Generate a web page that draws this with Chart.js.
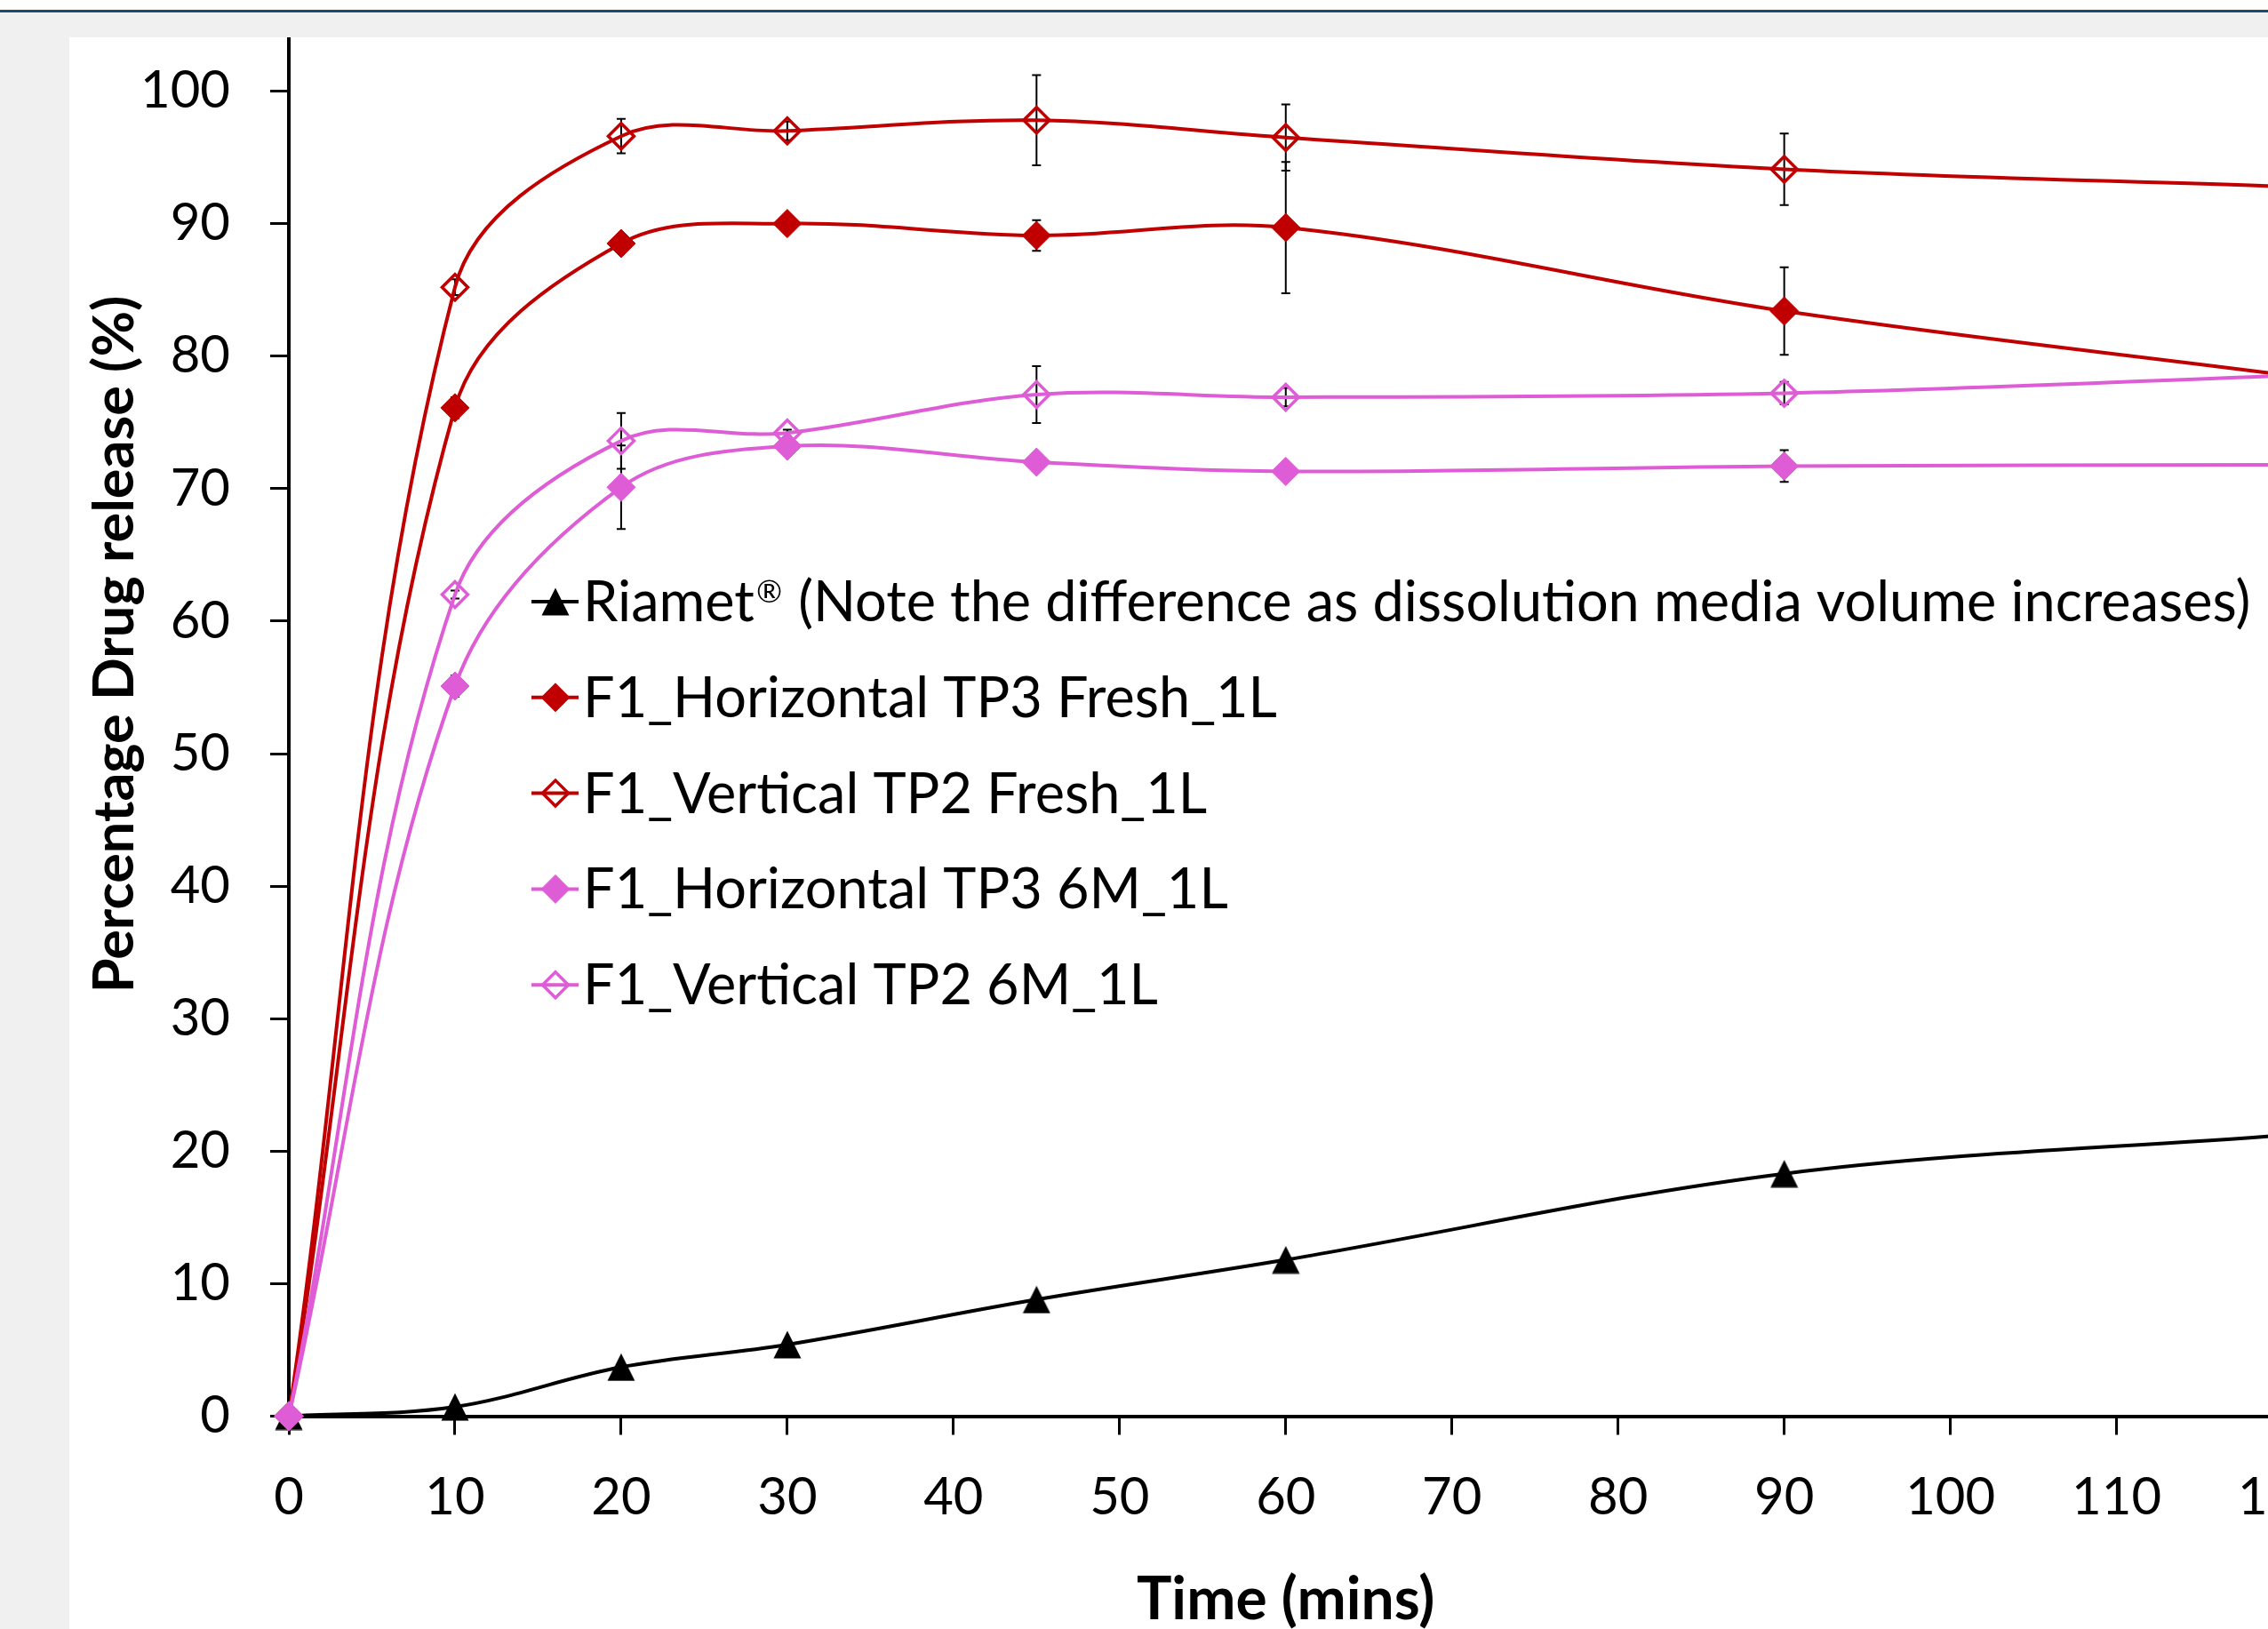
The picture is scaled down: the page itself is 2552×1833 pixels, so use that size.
<!DOCTYPE html>
<html>
<head>
<meta charset="utf-8">
<title>Percentage drug release</title>
<script src="https://cdn.jsdelivr.net/npm/chart.js@4.4.1/dist/chart.umd.min.js"></script>
<style>
  html, body { margin: 0; padding: 0; }
  body { width: 2552px; height: 1833px; overflow: hidden; background: #f0f0f0; position: relative; }
  .topbar { position: absolute; left: 0; top: 0; width: 100%; height: 11px; background: #fff; }
  .topline { position: absolute; left: 0; top: 11px; width: 100%; height: 3px; background: #1b4a6b; }
  .panel { position: absolute; left: 78px; top: 42px; right: 0; bottom: 0; background: #fff; overflow: hidden; }
  #chart { position: absolute; left: -78px; top: -242px; }
</style>
</head>
<body>
<div class="topbar"></div>
<div class="topline"></div>
<div class="panel"><canvas id="chart" width="2655" height="2040"></canvas></div>
<script>
// Datos
const times = [0, 10, 20, 30, 45, 60, 90, 120];
const riamet = [0, 0.7, 3.7, 5.4, 8.8, 11.8, 18.3, 21.2];
const hFresh = [0, 76.1, 88.5, 90.0, 89.1, 89.7, 83.4, 78.6];
const vFresh = [0, 85.2, 96.6, 97.0, 97.8, 96.5, 94.1, 92.8];
const h6m = [0, 55.1, 70.1, 73.2, 72.0, 71.3, 71.7, 71.8];
const v6m = [0, 62.0, 73.6, 74.2, 77.1, 76.9, 77.2, 78.5];

// Barras de error (+/-)
const hFreshErr = [0, 0.8, 0.6, 0.5, 1.15, 4.95, 3.3, 1.0];
const vFreshErr = [0, 0.6, 1.3, 0.7, 3.4, 2.5, 2.7, 1.0];
const h6mErr = [0, 0.8, 3.15, 0.6, 0.6, 0.5, 1.2, 0.5];
const v6mErr = [0, 0.3, 2.1, 0.25, 2.15, 0.7, 0.85, 0.5];

const seriesLabels = [
    'Riamet® (Note the difference as dissolution media volume increases)',
    'F1_Horizontal TP3 Fresh_1L',
    'F1_Vertical TP2 Fresh_1L',
    'F1_Horizontal TP3 6M_1L',
    'F1_Vertical TP2 6M_1L'
];
const xTitle = 'Time (mins)';
const yTitle = 'Percentage Drug release (%)';

const RED = '#c00000';
const PINK = '#de5cd6';
const FONT = 'Lato, "Open Sans", sans-serif';

// Marcador triangular tipo Excel
const tri = document.createElement('canvas');
tri.width = 32;
tri.height = 32;
const tctx = tri.getContext('2d');
tctx.fillStyle = '#000';
tctx.beginPath();
tctx.moveTo(16, 0.5);
tctx.lineTo(31.5, 31.5);
tctx.lineTo(0.5, 31.5);
tctx.closePath();
tctx.fill();

function toPoints(values) {
    return times.map((t, i) => ({ x: t, y: values[i] }));
}

function makeSet(label, values, color, filled, errors, order) {
    return {
        label: label,
        data: toPoints(values),
        errors: errors,
        borderColor: color,
        backgroundColor: color,
        borderWidth: 4,
        pointStyle: 'rectRot',
        pointRadius: filled ? 16 : 14.5,
        pointBorderWidth: filled ? 1 : 3.5,
        pointBackgroundColor: filled ? color : 'rgba(0,0,0,0)',
        pointBorderColor: color,
        tension: 0.35,
        clip: false,
        order: order
    };
}

const datasets = [
    {
        label: seriesLabels[0],
        data: toPoints(riamet),
        borderColor: '#000',
        backgroundColor: '#000',
        borderWidth: 4,
        pointStyle: tri,
        pointRadius: 16,
        tension: 0.35,
        clip: false,
        order: 5
    },
    makeSet(seriesLabels[1], hFresh, RED, true, hFreshErr, 4),
    makeSet(seriesLabels[2], vFresh, RED, false, vFreshErr, 3),
    makeSet(seriesLabels[3], h6m, PINK, true, h6mErr, 2),
    makeSet(seriesLabels[4], v6m, PINK, false, v6mErr, 1)
];

// Barras de error dibujadas con las escalas
const errorBars = {
    id: 'errorBars',
    beforeDatasetsDraw(chart) {
        const { ctx, scales: { x, y } } = chart;
        ctx.save();
        ctx.strokeStyle = '#000';
        ctx.lineWidth = 2;
        chart.data.datasets.forEach(ds => {
            if (!ds.errors) return;
            ds.data.forEach((p, i) => {
                const e = ds.errors[i];
                if (!e) return;
                const px = x.getPixelForValue(p.x);
                const top = y.getPixelForValue(p.y + e);
                const bot = y.getPixelForValue(p.y - e);
                ctx.beginPath();
                ctx.moveTo(px, top);
                ctx.lineTo(px, bot);
                ctx.moveTo(px - 5, top);
                ctx.lineTo(px + 5, top);
                ctx.moveTo(px - 5, bot);
                ctx.lineTo(px + 5, bot);
                ctx.stroke();
            });
        });
        ctx.restore();
    }
};

function drawMarker(ctx, ds, x, y) {
    if (ds.pointStyle instanceof HTMLCanvasElement) {
        ctx.drawImage(ds.pointStyle, x - ds.pointStyle.width / 2, y - ds.pointStyle.height / 2);
        return;
    }
    const r = ds.pointRadius;
    ctx.beginPath();
    ctx.moveTo(x - r, y);
    ctx.lineTo(x, y - r);
    ctx.lineTo(x + r, y);
    ctx.lineTo(x, y + r);
    ctx.closePath();
    ctx.fillStyle = ds.pointBackgroundColor;
    ctx.fill();
    ctx.lineWidth = ds.pointBorderWidth;
    ctx.strokeStyle = ds.pointBorderColor;
    ctx.stroke();
}

// Texto de leyenda con ® en superíndice
function drawLabel(ctx, text, x, y, size) {
    const parts = text.split('®');
    ctx.font = size + 'px ' + FONT;
    ctx.fillText(parts[0], x, y);
    if (parts.length < 2) return;
    x += ctx.measureText(parts[0]).width + 2;
    ctx.font = Math.round(size * 0.55) + 'px ' + FONT;
    ctx.fillText('®', x, y - size * 0.33);
    x += ctx.measureText('®').width + 2;
    ctx.font = size + 'px ' + FONT;
    ctx.fillText(parts[1], x, y);
}

// Leyenda dentro del área del gráfico y título del eje Y
const insideLegend = {
    id: 'insideLegend',
    afterDraw(chart) {
        const ctx = chart.ctx;
        ctx.save();
        ctx.textAlign = 'left';
        ctx.textBaseline = 'alphabetic';
        chart.data.datasets.forEach((ds, i) => {
            const cy = 877 + i * 107.8;
            ctx.strokeStyle = ds.borderColor;
            ctx.lineWidth = ds.borderWidth;
            ctx.beginPath();
            ctx.moveTo(598, cy);
            ctx.lineTo(651, cy);
            ctx.stroke();
            drawMarker(ctx, ds, 625, cy);
            ctx.fillStyle = '#000';
            drawLabel(ctx, ds.label, 656, cy + 22, 63);
        });

        ctx.translate(150, 925);
        ctx.rotate(-Math.PI / 2);
        ctx.font = 'bold 63px ' + FONT;
        ctx.textAlign = 'center';
        ctx.fillText(yTitle, 0, 0);
        ctx.restore();
    }
};

const axisGrid = { drawOnChartArea: false, tickLength: 21, tickWidth: 3, tickColor: '#000' };
const axisBorder = { color: '#000', width: 4 };

function buildChart() {
    new Chart(document.getElementById('chart'), {
        type: 'line',
        data: { datasets: datasets },
        options: {
            responsive: false,
            animation: false,
            layout: { padding: { left: 0, right: 80, top: 153.4, bottom: 0 } },
            plugins: {
                legend: { display: false },
                tooltip: { enabled: false }
            },
            scales: {
                x: {
                    type: 'linear',
                    min: 0,
                    max: 120,
                    ticks: { stepSize: 10, color: '#000', font: { family: FONT, size: 58 }, padding: 36, maxRotation: 0, autoSkip: false },
                    grid: axisGrid,
                    border: axisBorder,
                    title: {
                        display: true,
                        text: xTitle,
                        color: '#000',
                        font: { family: FONT, size: 66, weight: 'bold', lineHeight: 1.2 },
                        padding: { top: 0, bottom: 0 }
                    },
                    afterFit(scale) { scale.height = 246.5; }
                },
                y: {
                    type: 'linear',
                    min: 0,
                    max: 110,
                    ticks: { stepSize: 10, color: '#000', font: { family: FONT, size: 58 }, padding: 45 },
                    grid: axisGrid,
                    border: axisBorder,
                    afterFit(scale) { scale.width = 325; }
                }
            }
        },
        plugins: [errorBars, insideLegend]
    });
}

Promise.all([
    document.fonts.load('58px Lato'),
    document.fonts.load('bold 66px Lato')
]).then(buildChart, buildChart);
</script>
</body>
</html>
